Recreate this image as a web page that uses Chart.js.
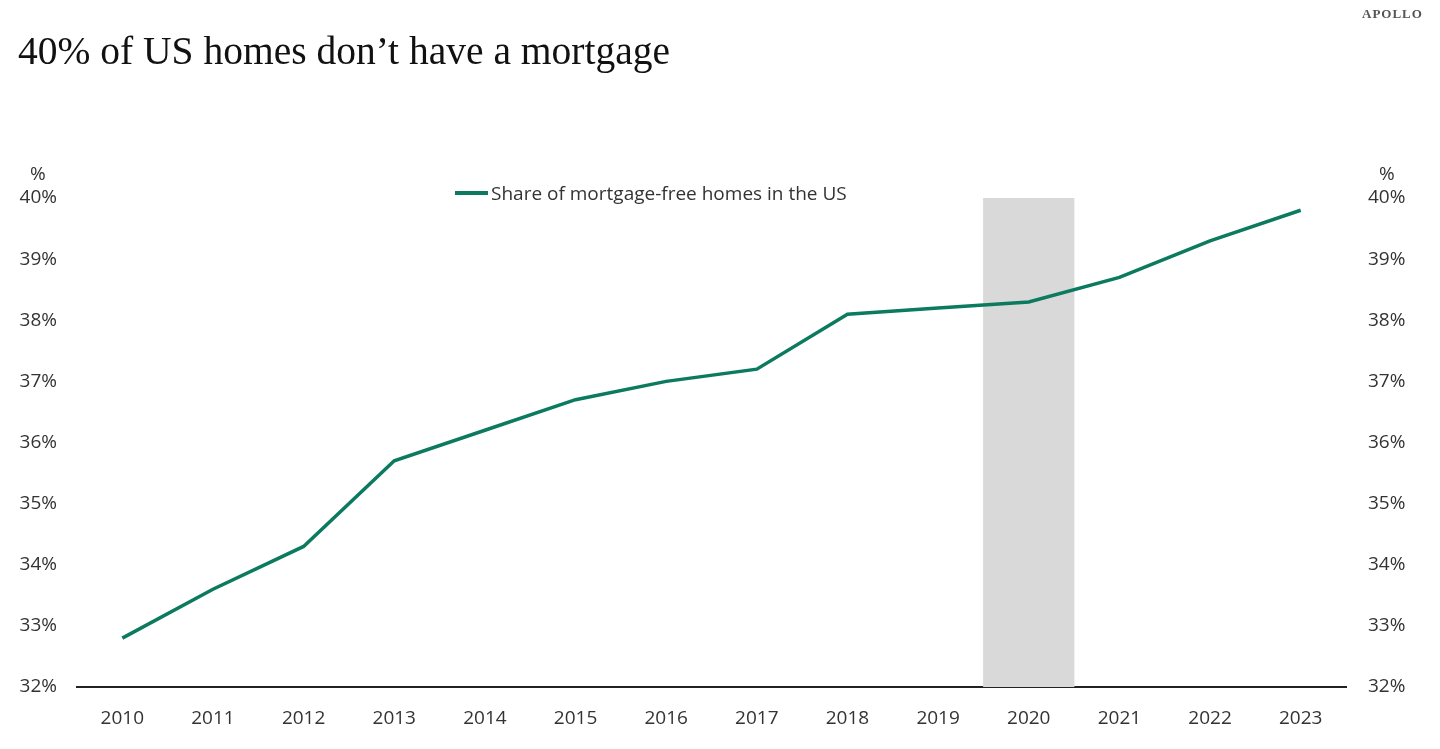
<!DOCTYPE html>
<html>
<head>
<meta charset="utf-8">
<script src="https://cdn.jsdelivr.net/npm/chart.js@4"></script>
<style>
  html, body { margin: 0; padding: 0; background: #fff; }
  #wrap { position: relative; width: 1440px; height: 749px; overflow: hidden; }
  #chart { position: absolute; left: 0; top: 0; }
  .title { position: absolute; left: 18px; top: 28px; font-family: "Liberation Serif", serif; font-size: 39.5px; color: #111; white-space: nowrap; }
  .brand { position: absolute; left: 1362px; top: 6px; font-family: "Liberation Serif", serif; font-size: 13px; font-weight: bold; letter-spacing: 1px; color: #555; }
  .unit { position: absolute; top: 160px; font-family: "Open Sans", sans-serif; font-size: 19px; color: #333; }
  .legend { position: absolute; left: 455px; top: 180px; font-family: "Open Sans", sans-serif; font-size: 19px; color: #333; white-space: nowrap; }
  .legend span.swatch { display: inline-block; width: 33px; height: 4px; background: #0b7a5f; vertical-align: middle; margin-right: 3px; position: relative; top: -2px; }
</style>
</head>
<body>
<div id="wrap">
  <canvas id="chart" width="1440" height="749"></canvas>
  <div class="title">40% of US homes don’t have a mortgage</div>
  <div class="brand">APOLLO</div>
  <div class="unit" style="left:30px">%</div>
  <div class="unit" style="left:1379px">%</div>
  <div class="legend"><span class="swatch"></span>Share of mortgage-free homes in the US</div>
</div>
<script>
// dados do grafico
const years = ['2010', '2011', '2012', '2013', '2014', '2015', '2016', '2017', '2018', '2019', '2020', '2021', '2022', '2023'];
const mortgageFree = [32.8, 33.6, 34.3, 35.7, 36.2, 36.7, 37.0, 37.2, 38.1, 38.2, 38.3, 38.7, 39.3, 39.8];
const shadedYear = '2020'; // faixa cinza
const yMin = 32;
const yMax = 40;

const band = years.map(y => (y === shadedYear ? [yMin, yMax] : null));

const tickFont = { family: 'Open Sans', size: 19 };
const green = '#0b7a5f';

const ctx = document.getElementById('chart').getContext('2d');
new Chart(ctx, {
  data: {
    labels: years,
    datasets: [
      {
        type: 'line',
        label: 'Share of mortgage-free homes in the US',
        data: mortgageFree,
        borderColor: green,
        borderWidth: 3.5,
        pointRadius: 0,
        tension: 0,
        order: 0,
        yAxisID: 'y',
      },
      {
        type: 'bar',
        label: 'band',
        data: band,
        backgroundColor: '#d9d9d9',
        categoryPercentage: 1,
        barPercentage: 1,
        order: 1,
        yAxisID: 'y',
      },
    ],
  },
  options: {
    responsive: false,
    animation: false,
    layout: { padding: { top: 198, left: 0, right: 0, bottom: 0 } },
    plugins: { legend: { display: false }, tooltip: { enabled: false } },
    scales: {
      x: {
        grid: { display: false, drawTicks: false },
        border: { display: true, color: '#222', width: 2 },
        ticks: { font: tickFont, color: '#333', padding: 20, maxRotation: 0 },
        afterFit: s => { s.height = 62; },
      },
      y: {
        position: 'left',
        min: yMin,
        max: yMax,
        grid: { display: false, drawTicks: false },
        border: { display: false },
        ticks: { stepSize: 1, font: tickFont, color: '#333', padding: 20, callback: v => v + '%' },
        afterFit: s => { s.width = 77; },
      },
      y2: {
        position: 'right',
        min: yMin,
        max: yMax,
        grid: { display: false, drawTicks: false },
        border: { display: false },
        ticks: { stepSize: 1, font: tickFont, color: '#333', padding: 22, callback: v => v + '%' },
        afterFit: s => { s.width = 94; },
      },
    },
  },
});
</script>
</body>
</html>
